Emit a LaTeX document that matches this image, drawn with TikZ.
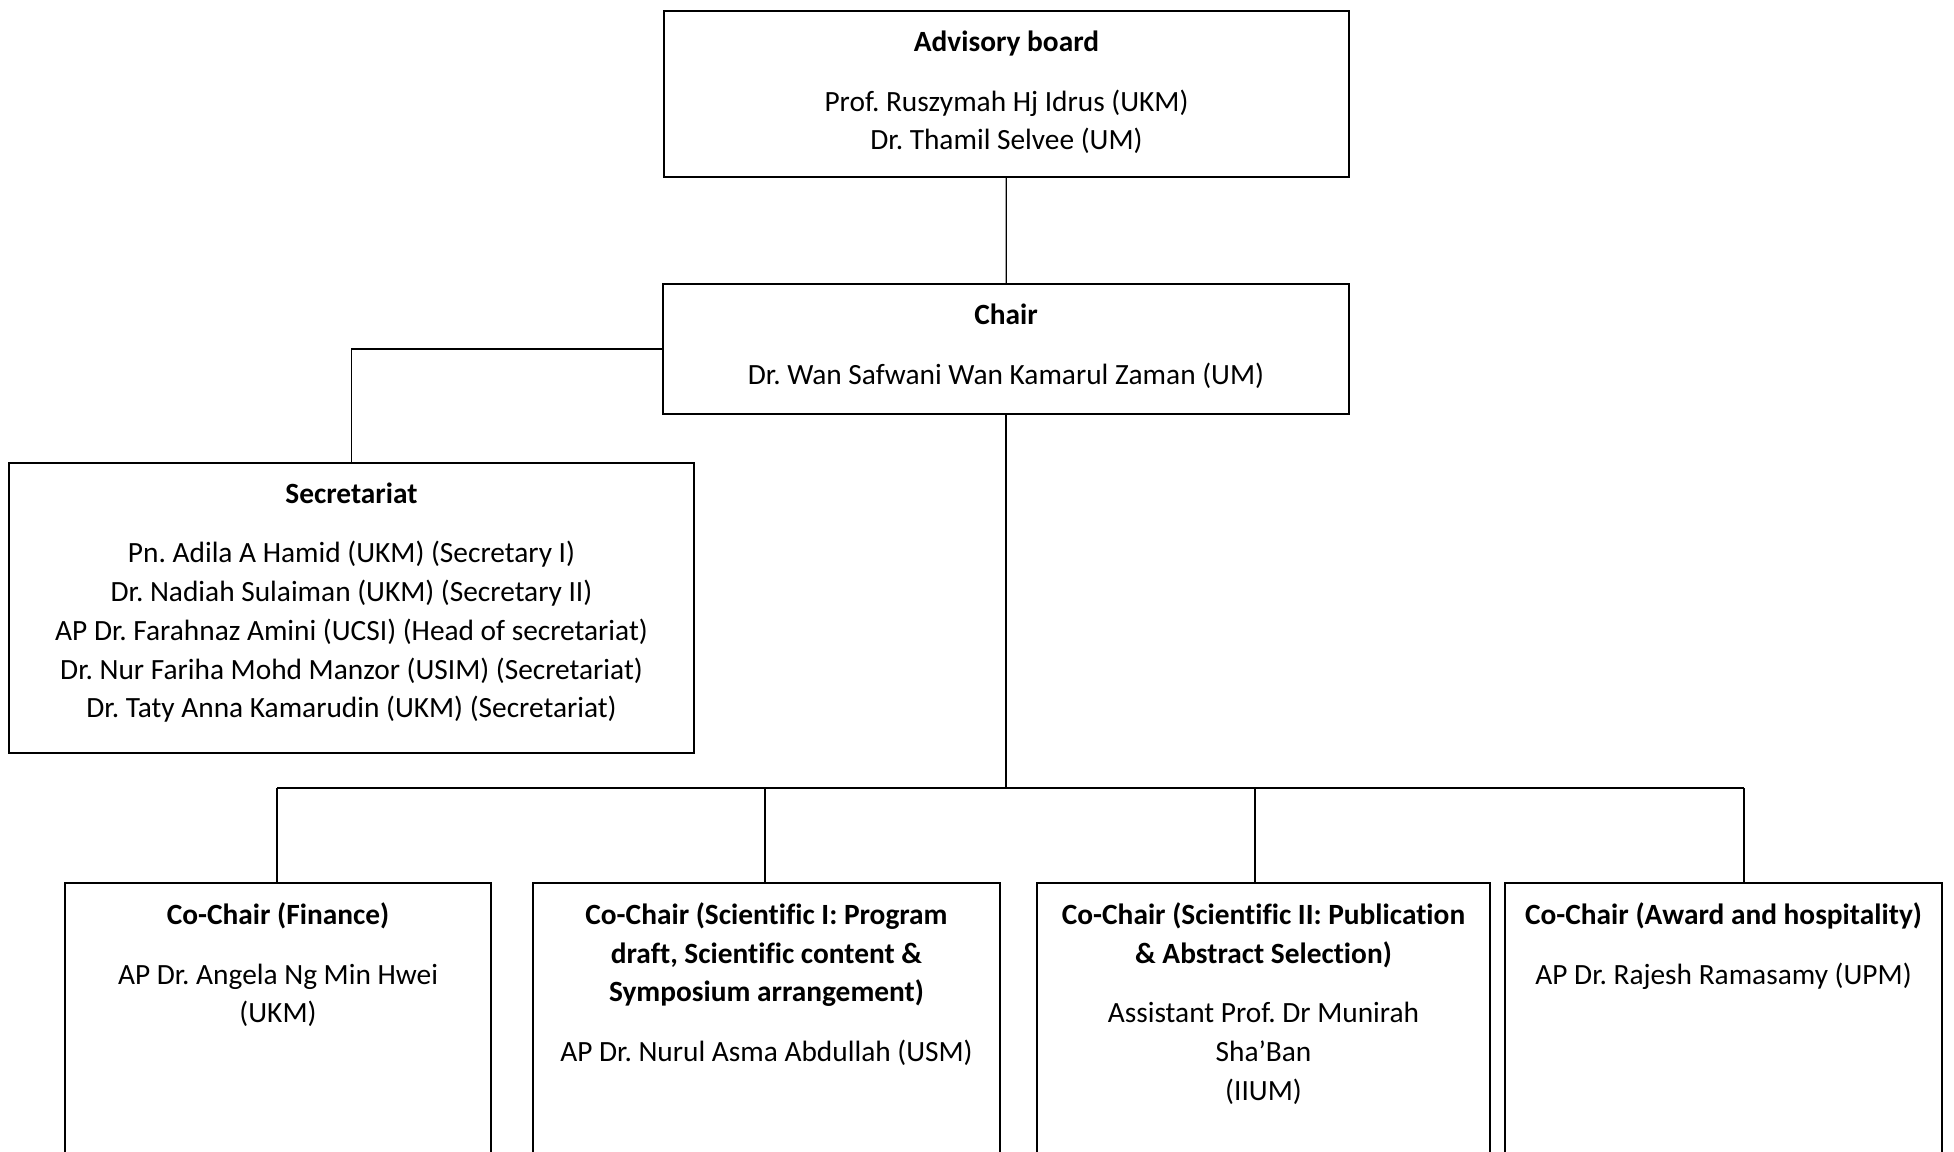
\documentclass[tikz,border=0pt]{standalone}
\usepackage{fontspec}
\setmainfont{Carlito}[Ligatures=NoCommon]
\usetikzlibrary{positioning}
\frenchspacing
\begin{document}
\begin{tikzpicture}[x=0.01cm, y=-0.01cm,
  box/.style={draw, line width=0.6pt, inner sep=0pt},
  txt/.style={align=center, inner sep=0pt, font=\fontsize{8.35}{11}\selectfont},
  link/.style={line width=0.35pt}]
\useasboundingbox (0,0) rectangle (1954,1151);
\clip (0,0) rectangle (1954,1151);
\node[box, minimum width=6.85cm, minimum height=1.66cm] (adv) at (1006.5,94) {};
\node[box, minimum width=6.86cm, minimum height=1.30cm] (chair) at (1006,349) {};
\node[box, minimum width=6.85cm, minimum height=2.90cm] (sec) at (351.5,608) {};
\foreach \b/\x/\w in {fin/278/4.26, sci1/766.5/4.67, sci2/1263.5/4.53, award/1723.5/4.37}
  \node[box, anchor=north, minimum width=\w cm, minimum height=3.5cm] (\b) at (\x,882) {};
\node[txt, below=0.20cm of adv.north] (advtxt)
  {\textbf{Advisory board}\\[6pt] Prof. Ruszymah Hj Idrus (UKM)\\ Dr. Thamil Selvee (UM)};
\node[txt, below=0.20cm of chair.north] (chairtxt)
  {\textbf{Chair}\\[6pt] Dr. Wan Safwani Wan Kamarul Zaman (UM)};
\node[txt, below=0.20cm of sec.north] (sectxt)
  {\textbf{Secretariat}\\[6pt] Pn. Adila A Hamid (UKM) (Secretary I)\\
   Dr. Nadiah Sulaiman (UKM) (Secretary II)\\
   AP Dr. Farahnaz Amini (UCSI) (Head of secretariat)\\
   Dr. Nur Fariha Mohd Manzor (USIM) (Secretariat)\\
   Dr. Taty Anna Kamarudin (UKM) (Secretariat)};
\node[txt, below=0.20cm of fin.north] (fintxt)
  {\textbf{Co-Chair (Finance)}\\[6pt] AP Dr. Angela Ng Min Hwei\\ (UKM)};
\node[txt, below=0.20cm of sci1.north] (sci1txt)
  {\textbf{Co-Chair (Scientific I: Program}\\ \textbf{draft, Scientific content \&}\\
   \textbf{Symposium arrangement)}\\[6pt] AP Dr. Nurul Asma Abdullah (USM)};
\node[txt, below=0.20cm of sci2.north] (sci2txt)
  {\textbf{Co-Chair (Scientific II: Publication}\\ \textbf{\& Abstract Selection)}\\[6pt]
   Assistant Prof. Dr Munirah\\ Sha’Ban\\ (IIUM)};
\node[txt, below=0.20cm of award.north] (awardtxt)
  {\textbf{Co-Chair (Award and hospitality)}\\[6pt] AP Dr. Rajesh Ramasamy (UPM)};
\draw[link] (adv) -- (chair);
\draw[link] (chair.west) -| (sec.north);
\coordinate (bus) at (chair.south |- 0,788);
\draw[link] (chair) -- (bus);
\foreach \n/\x in {1/277, 2/765, 3/1255, 4/1744}
  \coordinate (d\n) at (\x,788);
\draw[link] (d1) -- (d4);
\foreach \n/\b in {1/fin, 2/sci1, 3/sci2, 4/award}
  \draw[link] (d\n) -- (d\n |- \b.north);
\end{tikzpicture}
\end{document}
